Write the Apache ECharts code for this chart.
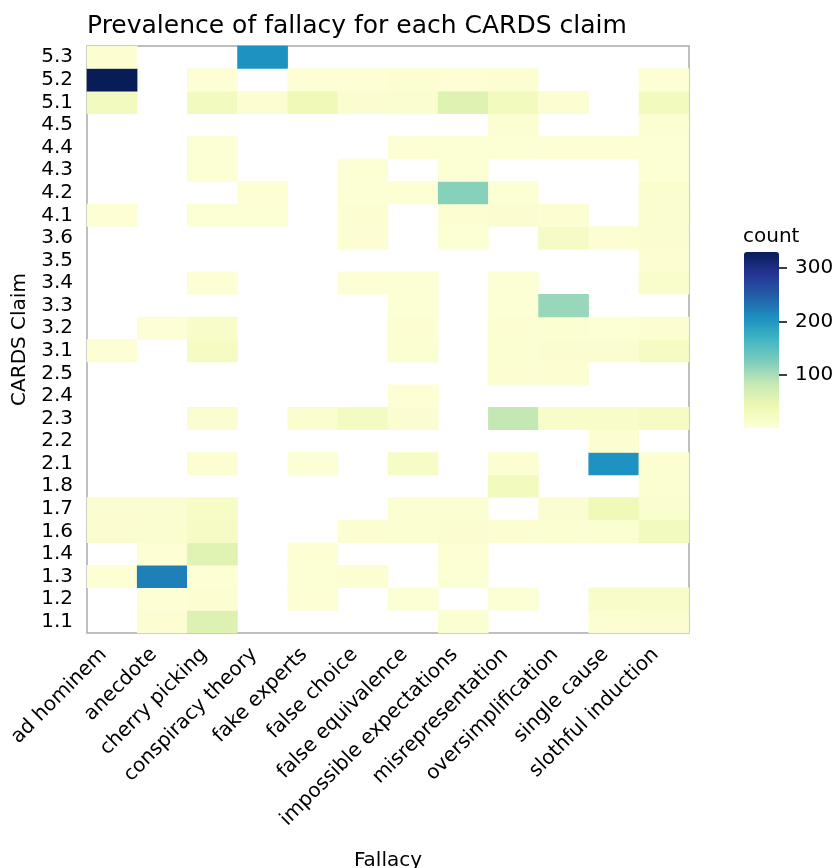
<!DOCTYPE html>
<html>
<head>
<meta charset="utf-8">
<script src="https://cdn.jsdelivr.net/npm/echarts@6/dist/echarts.min.js"></script>
<style>
  html, body { margin: 0; padding: 0; background: #fff; }
  #chart { width: 835px; height: 868px; }
</style>
</head>
<body>
<div id="chart"></div>
<script>
// categories (claims listed bottom to top, like the y axis)
var fallacies = ["ad hominem", "anecdote", "cherry picking", "conspiracy theory", "fake experts",
  "false choice", "false equivalence", "impossible expectations", "misrepresentation",
  "oversimplification", "single cause", "slothful induction"];
var claims = ["1.1", "1.2", "1.3", "1.4", "1.6", "1.7", "1.8", "2.1", "2.2", "2.3", "2.4", "2.5",
  "3.1", "3.2", "3.3", "3.4", "3.5", "3.6", "4.1", "4.2", "4.3", "4.4", "4.5", "5.1", "5.2", "5.3"];

// counts per fallacy, one value per claim in the order above (0 = no cell)
var adHominem      = [0, 0, 6, 0, 10, 10, 0, 0, 0, 0, 0, 0, 6, 0, 0, 0, 0, 0, 6, 0, 0, 0, 0, 28, 330, 8];
var anecdote       = [8, 6, 220, 6, 12, 10, 0, 0, 0, 0, 0, 0, 0, 5, 0, 0, 0, 0, 0, 0, 0, 0, 0, 0, 0, 0];
var cherryPicking  = [60, 8, 6, 55, 22, 20, 0, 8, 0, 10, 0, 0, 24, 18, 0, 6, 0, 0, 7, 0, 7, 7, 0, 28, 6, 0];
var conspiracy     = [0, 0, 0, 0, 0, 0, 0, 0, 0, 0, 0, 0, 0, 0, 0, 0, 0, 0, 7, 6, 0, 0, 0, 8, 0, 205];
var fakeExperts    = [0, 6, 7, 6, 0, 0, 0, 7, 0, 12, 0, 0, 0, 0, 0, 0, 0, 0, 0, 0, 0, 0, 0, 35, 6, 0];
var falseChoice    = [0, 0, 8, 0, 8, 0, 0, 0, 0, 25, 0, 0, 0, 0, 0, 6, 0, 8, 8, 7, 7, 0, 0, 10, 6, 0];
var falseEquiv     = [0, 7, 0, 0, 9, 9, 0, 20, 0, 10, 6, 0, 9, 8, 7, 7, 0, 0, 0, 6, 0, 6, 0, 12, 8, 0];
var impossibleExp  = [9, 0, 7, 6, 10, 9, 0, 0, 0, 0, 0, 0, 0, 0, 0, 0, 0, 7, 8, 120, 7, 7, 0, 58, 6, 0];
var misrep         = [0, 7, 0, 0, 8, 0, 30, 8, 0, 85, 0, 8, 9, 8, 7, 7, 0, 0, 10, 7, 0, 7, 8, 30, 8, 0];
var oversimp       = [0, 0, 0, 0, 9, 10, 0, 0, 0, 18, 0, 8, 10, 9, 110, 0, 0, 22, 8, 0, 0, 6, 0, 8, 0, 0];
var singleCause    = [8, 18, 0, 0, 9, 35, 0, 205, 8, 18, 0, 0, 10, 7, 0, 0, 0, 8, 0, 0, 0, 6, 0, 0, 0, 0];
var slothful       = [10, 18, 0, 0, 28, 12, 9, 8, 0, 24, 0, 0, 24, 8, 0, 14, 8, 10, 12, 12, 7, 7, 8, 30, 6, 0];

var countMin = 1;
var countMax = 330;
var countTicks = [100, 200, 300];

var columns = [adHominem, anecdote, cherryPicking, conspiracy, fakeExperts, falseChoice,
  falseEquiv, impossibleExp, misrep, oversimp, singleCause, slothful];

var cells = [];
columns.forEach(function (col, x) {
  col.forEach(function (v, y) {
    if (v > 0) cells.push([x, y, v]);
  });
});

var font = "DejaVu Sans";
var chart = echarts.init(document.getElementById("chart"), null, { renderer: "canvas" });

chart.setOption({
  animation: false,
  textStyle: { fontFamily: font },
  title: [
    {
      text: "Prevalence of fallacy for each CARDS claim",
      left: 82,
      top: 9,
      textStyle: { fontFamily: font, fontSize: 25, fontWeight: "normal", color: "#000" },
    },
    {
      text: "count",
      left: 738,
      top: 222,
      textStyle: { fontFamily: font, fontSize: 20, fontWeight: "normal", color: "#000" },
    },
  ],
  grid: [
    {
      left: 87,
      top: 46,
      width: 602,
      height: 587,
      outerBoundsMode: "none",
      show: true,
      borderColor: "#ababab",
      borderWidth: 1.5,
      backgroundColor: "#fff",
    },
    // colour bar axis
    { left: 744, top: 252, width: 35, height: 176, outerBoundsMode: "none", z: 10 },
  ],
  xAxis: [
    {
      type: "category",
      data: fallacies,
      gridIndex: 0,
      axisLine: { show: false },
      axisTick: { show: false },
      splitLine: { show: false },
      axisLabel: {
        rotate: 45,
        interval: 0,
        margin: 10,
        padding: [0, 12, 0, 0],
        fontSize: 20,
        color: "#000",
        fontFamily: font,
      },
      name: "Fallacy",
      nameLocation: "middle",
      nameGap: 218,
      nameTextStyle: { fontSize: 20, color: "#000", fontFamily: font },
    },
    { type: "value", gridIndex: 1, show: false, min: 0, max: 1 },
  ],
  yAxis: [
    {
      type: "category",
      data: claims,
      gridIndex: 0,
      axisLine: { show: false },
      axisTick: { show: false },
      splitLine: { show: false },
      axisLabel: { interval: 0, margin: 14, fontSize: 20, color: "#000", fontFamily: font },
      name: "CARDS Claim",
      nameLocation: "middle",
      nameGap: 57,
      nameTextStyle: { fontSize: 20, color: "#000", fontFamily: font },
    },
    {
      type: "value",
      gridIndex: 1,
      position: "right",
      min: countMin,
      max: countMax,
      z: 10,
      axisLine: { show: true, onZero: false, lineStyle: { color: "rgba(0,0,0,0)" } },
      splitLine: { show: false },
      axisTick: {
        show: true,
        inside: false,
        length: 8,
        customValues: countTicks,
        lineStyle: { color: "#000", width: 1.5 },
      },
      axisLabel: {
        margin: 16,
        fontSize: 20,
        color: "#000",
        fontFamily: font,
        customValues: countTicks,
      },
    },
  ],
  visualMap: {
    type: "continuous",
    seriesIndex: 0,
    min: countMin,
    max: countMax,
    calculable: false,
    left: 744,
    top: 252,
    padding: 0,
    itemWidth: 35,
    itemHeight: 176,
    text: null,
    showLabel: false,
    inRange: {
      color: ["#ffffd9", "#edf8b1", "#c7e9b4", "#7fcdbb", "#41b6c4", "#1d91c0", "#225ea8", "#253494", "#081d58"],
    },
  },
  series: [
    {
      type: "heatmap",
      xAxisIndex: 0,
      yAxisIndex: 0,
      data: cells,
      itemStyle: { borderWidth: 0 },
      emphasis: { disabled: true },
    },
  ],
});
</script>
</body>
</html>
